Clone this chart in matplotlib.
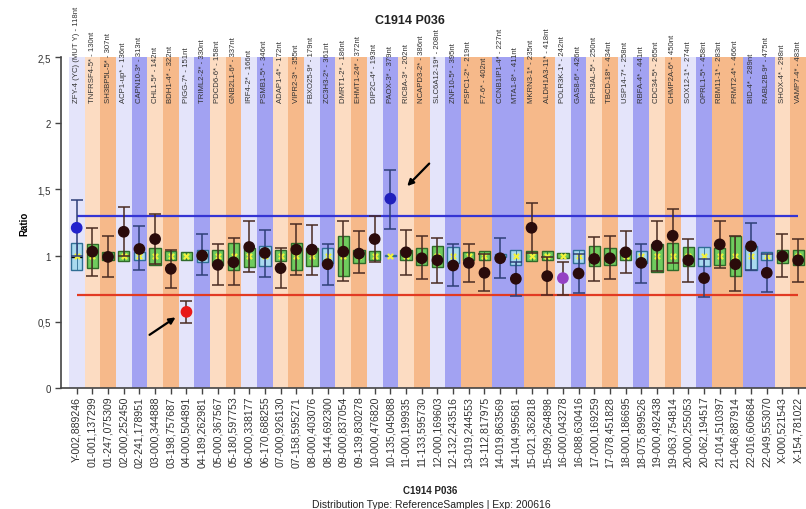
import numpy as np
import matplotlib.pyplot as plt

# probe names (top) and chromosome positions (bottom)
top_labels = ['ZFY-4 (YC) (MUT Y) - 118nt', 'TNFRSF4-5* - 130nt', 'SH3BP5L-5* - 307nt', 'ACP1-up* - 136nt',
              'CAPN10-3* - 313nt', 'CHL1-5* - 142nt', 'BDH1-4* - 322nt', 'PIGG-7* - 151nt',
              'TRIML2-2* - 330nt', 'PDCD6-6* - 158nt', 'GNB2L1-6* - 337nt', 'IRF4-2* - 166nt',
              'PSMB1-5* - 346nt', 'ADAP1-4* - 172nt', 'VIPR2-3* - 355nt', 'FBXO25-9* - 179nt',
              'ZC3H3-2* - 361nt', 'DMRT1-2* - 186nt', 'EHMT1-24* - 372nt', 'DIP2C-4* - 193nt',
              'PAOX-3* - 379nt', 'RIC8A-3* - 202nt', 'NCAPD3-2* - 386nt', 'SLC6A12-19* - 208nt',
              'ZNF10-5* - 395nt', 'PSPC1-2* - 219nt', 'F7-6* - 402nt', 'CCNB1IP1-4* - 227nt',
              'MTA1-8* - 411nt', 'MKRN3-1* - 235nt', 'ALDH1A3-11* - 418nt', 'POLR3K-1* - 242nt',
              'GAS8-6* - 426nt', 'RPH3AL-5* - 250nt', 'TBCD-18* - 434nt', 'USP14-7* - 258nt',
              'RBFA-4* - 441nt', 'CDC34-5* - 265nt', 'CHMP2A-6* - 450nt', 'SOX12-1* - 274nt',
              'OPRL1-5* - 458nt', 'RBM11-1* - 283nt', 'PRMT2-4* - 466nt', 'BID-4* - 289nt',
              'RABL2B-9* - 475nt', 'SHOX-4* - 298nt', 'VAMP7-4* - 483nt']
bottom_labels = ['Y-002,889246', '01-001,137299', '01-247,075309', '02-000,252450', '02-241,178951',
                 '03-000,344888', '03-198,757687', '04-000,504891', '04-189,262981', '05-000,367567',
                 '05-180,597753', '06-000,338177', '06-170,688255', '07-000,926130', '07-158,595271',
                 '08-000,403076', '08-144,692300', '09-000,837054', '09-139,830278', '10-000,476820',
                 '10-135,045088', '11-000,199935', '11-133,595730', '12-000,169603', '12-132,243516',
                 '13-019,244553', '13-112,817975', '14-019,863569', '14-104,995681', '15-021,362818',
                 '15-099,264898', '16-000,043278', '16-088,630416', '17-000,169259', '17-078,451828',
                 '18-000,186695', '18-075,899526', '19-000,492438', '19-063,754814', '20-000,255053',
                 '20-062,194517', '21-014,510397', '21-046,887914', '22-016,606684', '22-049,553070',
                 'X-000,521543', 'X-154,781022']
# band shade per probe: L lavender, B blue, P peach, O orange
bands = list('LPOLBPOLBPOLBPOLBPOLBPOLBOOBBOOLBPOLBPOLBOOBBPO')

# sample ratio with its interval
ratio = [1.21, 1.03, 0.99, 1.18, 1.05, 1.125, 0.90, 0.575, 1.00, 0.93, 0.95, 1.065, 1.02, 0.905, 1.045, 1.045,
         0.935, 1.03, 1.015, 1.125, 1.43, 1.025, 0.98, 0.965, 0.925, 0.945, 0.87, 0.98, 0.825, 1.21, 0.845,
         0.83, 0.865, 0.975, 0.98, 1.025, 0.945, 1.075, 1.15, 0.965, 0.83, 1.085, 0.935, 1.07, 0.87, 0.995, 0.965]
ratio_hi = [1.42, 1.21, 1.145, 1.365, 1.225, 1.315, 1.045, 0.66, 1.165, 1.09, 1.135, 1.26, 1.195, 1.055, 1.24,
            1.23, 1.09, 1.26, 1.185, 1.30, 1.65, 1.19, 1.15, 1.135, 1.09, 1.09, 1.01, 1.135, 0.955, 1.40, 0.99,
            0.955, 1.015, 1.14, 1.15, 1.185, 1.09, 1.265, 1.355, 1.125, 0.975, 1.265, 1.145, 1.25, 1.015, 1.16, 1.125]
ratio_lo = [1.00, 0.845, 0.835, 0.995, 0.89, 0.935, 0.755, 0.49, 0.85, 0.775, 0.775, 0.875, 0.835, 0.755, 0.85,
            0.855, 0.78, 0.805, 0.865, 0.95, 1.20, 0.855, 0.82, 0.795, 0.77, 0.80, 0.73, 0.83, 0.695, 1.02, 0.70,
            0.70, 0.715, 0.81, 0.82, 0.865, 0.79, 0.885, 0.945, 0.80, 0.685, 0.905, 0.73, 0.89, 0.725, 0.835, 0.80]

# reference distribution boxes
ref_hi = [1.095, 1.085, 1.03, 1.035, 1.03, 1.06, 1.035, 1.03, 1.045, 1.045, 1.095, 1.06, 1.07, 1.04, 1.095, 1.06,
          1.06, 1.15, 1.045, 1.035, 1.005, 1.045, 1.06, 1.07, 1.065, 1.03, 1.035, 1.01, 1.04, 1.035, 1.035,
          1.02, 1.04, 1.07, 1.055, 1.045, 1.035, 1.085, 1.095, 1.065, 1.065, 1.055, 1.145, 1.07, 1.03, 1.045, 1.045]
ref_lo = [0.89, 0.905, 0.97, 0.96, 0.97, 0.93, 0.97, 0.965, 0.95, 0.93, 0.895, 0.915, 0.92, 0.96, 0.895, 0.92,
          0.945, 0.845, 0.945, 0.965, 0.995, 0.965, 0.93, 0.915, 0.945, 0.97, 0.965, 0.99, 0.93, 0.96, 0.965,
          0.985, 0.945, 0.92, 0.93, 0.965, 0.945, 0.875, 0.89, 0.92, 0.92, 0.93, 0.845, 0.89, 0.965, 0.945, 0.93]
ref_mean = [1.00, 1.00, 1.00, 1.00, 1.00, 1.00, 1.00, 1.00, 1.00, 1.00, 1.00, 1.00, 1.00, 1.00, 1.00, 1.00,
            1.00, 1.00, 1.00, 1.00, 1.00, 1.00, 1.00, 1.00, 1.00, 1.00, 1.00, 1.00, 1.00, 1.00, 1.00,
            1.00, 1.00, 1.00, 1.00, 1.00, 1.00, 1.00, 1.00, 1.00, 1.00, 1.00, 1.00, 1.00, 1.00, 1.00, 1.00]

upper_limit = 1.3
lower_limit = 0.7

plt.rcParams['font.family'] = ['Liberation Sans', 'DejaVu Sans']

band_colors = {'L': '#E4E4FA', 'B': '#A2A2F2', 'P': '#FCDCC2', 'O': '#F6B98A'}
special_dots = {0: '#2222CC', 7: '#E81818', 20: '#2020BB', 31: '#9440C4'}

x = np.arange(len(ratio))
ratio = np.array(ratio)
ref_lo = np.array(ref_lo)
ref_hi = np.array(ref_hi)

fig = plt.figure(figsize=(8.06, 5.10), dpi=100)
ax = fig.add_axes([61 / 806, 121 / 510, 745 / 806, 331 / 510])
ax.set_xlim(-1, 46.5)
ax.set_ylim(0, 2.5)

# background bands
for i, b in enumerate(bands):
    ax.axvspan(i - 0.5, i + 0.5, color=band_colors[b], lw=0, zorder=0)

ax.hlines(upper_limit, 0, x[-1], color='#3434D4', lw=1.6, zorder=2)
ax.hlines(lower_limit, 0, x[-1], color='#E23A22', lw=1.6, zorder=2)

# reference boxes
blueish = [i for i, b in enumerate(bands) if b == 'B' or i == 0]
box_fill = ['#A9D9EE' if i in blueish else '#6FCB5E' for i in x]
box_edge = ['#2F6E94' if i in blueish else '#2F6A2A' for i in x]
ax.bar(x, ref_hi - ref_lo, bottom=ref_lo, width=0.72, color=box_fill, edgecolor=box_edge, lw=1, zorder=3)
ax.vlines(x, ref_lo, ref_hi, color=box_edge, lw=0.6, zorder=3)
ax.hlines(0.99, -0.36, 0.36, color='black', lw=1, linestyles='--', zorder=3)
ax.scatter(x, ref_mean, marker='x', color='#F2F23A', s=14, lw=1.6, zorder=4)

# sample ratios
for i in x:
    ecol = '#2E3F78' if i in blueish else '#4A2C22'
    ax.errorbar(i, ratio[i], yerr=[[ratio[i] - ratio_lo[i]], [ratio_hi[i] - ratio[i]]],
                fmt='none', ecolor=ecol, elinewidth=1.1, capsize=4, capthick=1.1, zorder=5)
dot_colors = [special_dots.get(i, '#2A0B0B') for i in x]
ax.scatter(x, ratio, s=55, color=dot_colors, zorder=6)

ax.annotate('', xy=(6.45, 0.545), xytext=(4.5, 0.39),
            arrowprops=dict(arrowstyle='-|>', color='black', lw=1.6, mutation_scale=9))
ax.annotate('', xy=(20.95, 1.51), xytext=(22.6, 1.71),
            arrowprops=dict(arrowstyle='-|>', color='black', lw=1.6, mutation_scale=9))

# probe names on top of the bands
for i, lab in enumerate(top_labels):
    ax.text(i, 2.16, lab, rotation=90, ha='center', va='bottom', fontsize=5.6,
            family=['Liberation Sans Narrow', 'Liberation Sans', 'DejaVu Sans'],
            color='#333333', clip_on=False, zorder=7)

ax.set_xticks(x)
ax.set_xticklabels(bottom_labels, rotation=90, fontsize=7.6, color='#333333')
ax.set_yticks([0, 0.5, 1, 1.5, 2, 2.5])
ax.set_yticklabels(['0', '0,5', '1', '1,5', '2', '2,5'], fontsize=7, color='#333333')
ax.tick_params(direction='out', length=4, width=1, color='#444444')
ax.tick_params(axis='x', pad=1.5)
ax.set_ylabel('Ratio', fontsize=7, fontweight='bold', labelpad=6)
for s in ['top', 'right']:
    ax.spines[s].set_visible(False)
for s in ['left', 'bottom']:
    ax.spines[s].set_color('#444444')
    ax.spines[s].set_linewidth(1.2)

fig.text(410 / 806, 1 - 21 / 510, 'C1914 P036', ha='center', va='center', fontsize=9, fontweight='bold', color='#222222')
fig.text(430 / 806, 1 - 491 / 510, 'C1914 P036', ha='center', va='center', fontsize=7, fontweight='bold',
         color='#222222')
fig.text(431 / 806, 1 - 505 / 510, 'Distribution Type: ReferenceSamples | Exp: 200616', ha='center', va='center',
         fontsize=7.5, color='#222222')

fig.savefig('out.png', dpi=100)
